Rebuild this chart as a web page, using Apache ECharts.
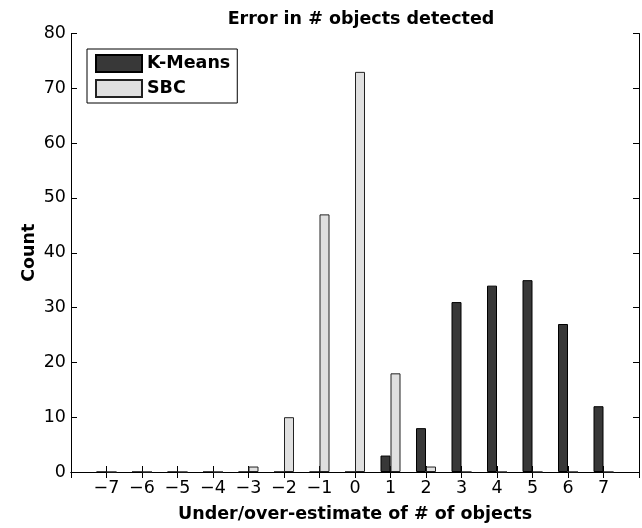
<!DOCTYPE html>
<html>
<head>
<meta charset="utf-8">
<script src="https://cdn.jsdelivr.net/npm/echarts@6/dist/echarts.min.js"></script>
<style>
  html, body { margin: 0; padding: 0; background: #fff; }
  #chart { width: 642px; height: 528px; }
</style>
</head>
<body>
<div id="chart"></div>
<script>
// x categories (error in # objects), -8 and 8 only pad the axis
const categories = ['-8', '-7', '-6', '-5', '-4', '-3', '-2', '-1', '0', '1', '2', '3', '4', '5', '6', '7', '8']
// counts
const kmeansCounts = [null, 0, 0, 0, 0, 0, 0, 0, 0, 3, 8, 31, 34, 35, 27, 12, null]
const sbcCounts = [null, 0, 0, 0, 0, 1, 10, 47, 73, 18, 1, 0, 0, 0, 0, 0, null]

const chart = echarts.init(document.getElementById('chart'))
const font = 'DejaVu Sans, Liberation Sans, Arial, sans-serif'
const fs = 17.5

const tickIn = { show: true, inside: true, length: 6, lineStyle: { color: '#000', width: 1 } }
const axisLine = { show: true, lineStyle: { color: '#000', width: 1 } }

const option = {
  backgroundColor: '#fff',
  animation: false,
  textStyle: { fontFamily: font },
  title: {
    text: 'Error in # objects detected',
    left: 356,
    textAlign: 'center',
    top: 5,
    textStyle: { fontFamily: font, fontSize: fs, fontWeight: 'bold', color: '#000' }
  },
  legend: {
    orient: 'vertical',
    left: 87,
    top: 49,
    padding: [5, 7, 5, 8],
    itemWidth: 46,
    itemHeight: 17,
    itemGap: 6,
    icon: 'rect',
    borderColor: '#000',
    borderWidth: 1,
    backgroundColor: '#fff',
    textStyle: { fontFamily: font, fontSize: fs, fontWeight: 'bold', color: '#000' },
    data: ['K-Means', 'SBC']
  },
  grid: { left: 71, right: 1, top: 33.5, bottom: 46, containLabel: false },
  xAxis: [
    {
      type: 'category',
      data: categories,
      boundaryGap: false,
      name: 'Under/over-estimate of # of objects',
      nameLocation: 'middle',
      nameGap: 33,
      nameMoveOverlap: false,
      nameTextStyle: { fontFamily: font, fontSize: fs, fontWeight: 'bold', color: '#000' },
      axisLine: axisLine,
      axisTick: Object.assign({ interval: 0 }, tickIn),
      axisLabel: {
        interval: 0,
        margin: 7,
        fontFamily: font,
        fontSize: fs,
        color: '#000',
        formatter: function (v) {
          if (v === '-8' || v === '8') return ''
          return v.replace('-', '\u2212')
        }
      },
      splitLine: { show: false }
    },
    {
      type: 'category',
      data: categories,
      boundaryGap: false,
      position: 'top',
      axisLine: axisLine,
      axisTick: Object.assign({ interval: 0 }, tickIn),
      axisLabel: { show: false },
      splitLine: { show: false }
    }
  ],
  yAxis: [
    {
      type: 'value',
      min: 0,
      max: 80,
      interval: 10,
      name: 'Count',
      nameLocation: 'middle',
      nameGap: 33,
      nameMoveOverlap: false,
      nameTextStyle: { fontFamily: font, fontSize: fs, fontWeight: 'bold', color: '#000' },
      axisLine: axisLine,
      axisTick: tickIn,
      axisLabel: { margin: 5, fontFamily: font, fontSize: fs, color: '#000' },
      splitLine: { show: false }
    },
    {
      type: 'value',
      min: 0,
      max: 80,
      interval: 10,
      position: 'right',
      axisLine: axisLine,
      axisTick: tickIn,
      axisLabel: { show: false },
      splitLine: { show: false }
    }
  ],
  series: [
    {
      name: 'K-Means',
      type: 'bar',
      data: kmeansCounts,
      barWidth: 10,
      barGap: '0%',
      itemStyle: { color: '#383838', borderColor: '#000', borderWidth: 1 }
    },
    {
      name: 'SBC',
      type: 'bar',
      data: sbcCounts,
      barWidth: 10,
      barGap: '0%',
      itemStyle: { color: '#e0e0e0', borderColor: '#222', borderWidth: 1 }
    }
  ]
}

chart.setOption(option)
</script>
</body>
</html>
